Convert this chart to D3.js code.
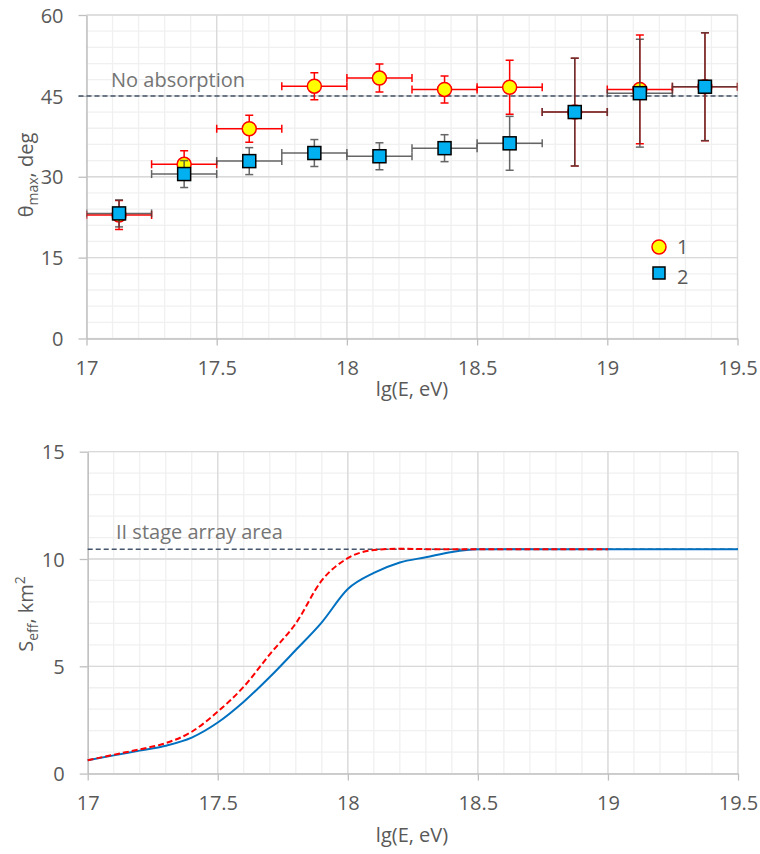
<!DOCTYPE html>
<html>
<head>
<meta charset="utf-8">
<script src="https://cdn.jsdelivr.net/npm/d3@7"></script>
<style>
body { margin: 0; background: #fff; }
svg text { font-family: "Open Sans", sans-serif; fill: #595959; }
</style>
</head>
<body>
<script>
// top panel: theta_max per energy bin
var binCenters = [17.125, 17.375, 17.625, 17.875, 18.125, 18.375, 18.625, 18.875, 19.125, 19.375];
var binHalf = 0.125;
var theta1 = [22.9, 32.3, 38.9, 46.8, 48.3, 46.2, 46.6, 42.0, 46.2, 46.7];
var theta1Err = [2.7, 2.5, 2.5, 2.5, 2.6, 2.5, 5.0, 10.0, 10.1, 10.0];
var theta2 = [23.2, 30.5, 32.9, 34.4, 33.8, 35.3, 36.2, 42.0, 45.5, 46.7];
var theta2Err = [2.5, 2.5, 2.5, 2.5, 2.5, 2.5, 5.0, 10.0, 10.0, 10.0];
var noAbsorption = 45;

// bottom panel: effective area curves
var areaX1 = [17.0, 17.1, 17.2, 17.3, 17.4, 17.5, 17.6, 17.7, 17.8, 17.9, 18.0, 18.1, 18.2, 18.3, 18.4, 18.5, 19.0, 19.5];
var area1 = [0.62, 0.85, 1.07, 1.30, 1.68, 2.38, 3.35, 4.50, 5.76, 7.05, 8.6, 9.35, 9.84, 10.08, 10.33, 10.45, 10.45, 10.45];
var areaX2 = [17.0, 17.1, 17.2, 17.3, 17.4, 17.5, 17.6, 17.7, 17.8, 17.9, 18.0, 18.1, 18.2, 18.3, 18.4, 18.5, 19.0];
var area2 = [0.62, 0.88, 1.13, 1.42, 1.95, 2.89, 4.05, 5.56, 7.0, 9.0, 10.04, 10.42, 10.48, 10.46, 10.45, 10.45, 10.45];
var arrayArea = 10.45;

var xTicks = [17, 17.5, 18, 18.5, 19, 19.5];
var yTicksTop = [0, 15, 30, 45, 60];
var yTicksBottom = [0, 5, 10, 15];

var w = 760, h = 854;
var fmt = d3.format('');

var svg = d3.select('body')
.append('svg')
.attr('width', w)
.attr('height', h);

function frame(x, y, xMinorStep, yMinorStep, yTicks, id) {
    var g = svg.append('g');
    var x0 = x.range()[0], x1 = x.range()[1];
    var y0 = y.range()[0], y1 = y.range()[1];
    var xd = x.domain(), yd = y.domain();

    var xMinor = d3.range(xd[0], xd[1] + 1e-9, xMinorStep);
    var yMinor = d3.range(yd[0], yd[1] + 1e-9, yMinorStep);

    g.selectAll('.vmin').data(xMinor).enter().append('line')
    .attr('x1', x).attr('x2', x).attr('y1', y0).attr('y2', y1)
    .attr('stroke', '#f0f0f0').attr('stroke-width', 1.3);
    g.selectAll('.hmin').data(yMinor).enter().append('line')
    .attr('x1', x0).attr('x2', x1).attr('y1', y).attr('y2', y)
    .attr('stroke', '#f0f0f0').attr('stroke-width', 1.3);

    g.selectAll('.vmaj').data(xTicks.slice(1)).enter().append('line')
    .attr('x1', x).attr('x2', x).attr('y1', y0).attr('y2', y1)
    .attr('stroke', '#d9d9d9').attr('stroke-width', 1.3);
    g.selectAll('.hmaj').data(yTicks.slice(1)).enter().append('line')
    .attr('x1', x0).attr('x2', x1).attr('y1', y).attr('y2', y)
    .attr('stroke', '#d9d9d9').attr('stroke-width', 1.3);

    var ax = g.append('g')
    .attr('transform', 'translate(0,' + y0 + ')')
    .call(d3.axisBottom(x).tickValues(xTicks).tickFormat(fmt).tickSizeInner(7).tickSizeOuter(0));
    ax.select('.domain').attr('stroke', '#bfbfbf').attr('stroke-width', 1.5);
    ax.selectAll('.tick line').attr('stroke', '#bfbfbf').attr('stroke-width', 1.3);
    ax.selectAll('.tick text').attr('y', 36).attr('dy', 0)
    .style('font-size', '20px').style('font-family', null).attr('fill', null);

    var ay = g.append('g')
    .attr('transform', 'translate(' + x0 + ',0)')
    .call(d3.axisLeft(y).tickValues(yTicks).tickFormat(fmt).tickSizeInner(8).tickSizeOuter(0));
    ay.select('.domain').attr('stroke', '#bfbfbf').attr('stroke-width', 1.5);
    ay.selectAll('.tick line').attr('stroke', '#bfbfbf').attr('stroke-width', 1.3);
    ay.selectAll('.tick text').attr('x', -23).attr('dy', '0.36em')
    .style('font-size', '20px').style('font-family', null).attr('fill', null);

    svg.append('clipPath').attr('id', id)
    .append('rect')
    .attr('x', x0).attr('y', y1)
    .attr('width', x1 - x0).attr('height', y0 - y1);

    return g;
}

// ---------- top panel ----------
var xTop = d3.scaleLinear().domain([17, 19.5]).range([86.5, 737.5]);
var yTop = d3.scaleLinear().domain([0, 60]).range([338.5, 15]);
frame(xTop, yTop, 0.1, 3, yTicksTop, 'clipTop');

svg.append('line')
.attr('x1', xTop(17) - 8).attr('x2', xTop(19.5))
.attr('y1', yTop(noAbsorption)).attr('y2', yTop(noAbsorption))
.attr('stroke', '#44546a').attr('stroke-width', 1.5).attr('stroke-dasharray', '5,3');

svg.append('text')
.attr('x', 111).attr('y', 87)
.style('font-size', '20px')
.attr('fill', '#757575').style('fill', '#757575')
.text('No absorption');

function errorBars(vals, errs, color, op) {
    var pts = binCenters.map(function(c, i) { return {x: c, v: vals[i], e: errs[i]}; });
    var g = svg.append('g')
    .attr('clip-path', 'url(#clipTop)')
    .attr('stroke', color).attr('stroke-width', 1.5).attr('opacity', op);
    pts.forEach(function(d) {
        var cx = xTop(d.x), cy = yTop(d.v);
        var xl = xTop(d.x - binHalf), xr = xTop(d.x + binHalf);
        var yt = yTop(d.v + d.e), yb = yTop(d.v - d.e);
        g.append('line').attr('x1', xl).attr('x2', xr).attr('y1', cy).attr('y2', cy);
        g.append('line').attr('x1', xl).attr('x2', xl).attr('y1', cy - 4).attr('y2', cy + 4);
        g.append('line').attr('x1', xr).attr('x2', xr).attr('y1', cy - 4).attr('y2', cy + 4);
        g.append('line').attr('x1', cx).attr('x2', cx).attr('y1', yt).attr('y2', yb);
        g.append('line').attr('x1', cx - 4).attr('x2', cx + 4).attr('y1', yt).attr('y2', yt);
        g.append('line').attr('x1', cx - 4).attr('x2', cx + 4).attr('y1', yb).attr('y2', yb);
    });
}

errorBars(theta1, theta1Err, '#ff0000', 1);
svg.append('g').selectAll('circle')
.data(binCenters)
.enter().append('circle')
.attr('cx', function(d) { return xTop(d); })
.attr('cy', function(d, i) { return yTop(theta1[i]); })
.attr('r', 7)
.attr('fill', '#ffff00')
.attr('stroke', '#ff0000')
.attr('stroke-width', 1.5);

errorBars(theta2, theta2Err, '#404040', 0.8);
svg.append('g').selectAll('rect')
.data(binCenters)
.enter().append('rect')
.attr('x', function(d) { return xTop(d) - 6.5; })
.attr('y', function(d, i) { return yTop(theta2[i]) - 6.5; })
.attr('width', 13)
.attr('height', 13)
.attr('fill', '#00b0f0')
.attr('stroke', '#000')
.attr('stroke-width', 1.5);

// legend
var leg = svg.append('g');
leg.append('circle').attr('cx', 659).attr('cy', 247).attr('r', 7)
.attr('fill', '#ffff00').attr('stroke', '#ff0000').attr('stroke-width', 1.5);
leg.append('text').attr('x', 677).attr('y', 254).style('font-size', '20px').text('1');
leg.append('rect').attr('x', 653).attr('y', 267).attr('width', 12).attr('height', 12)
.attr('fill', '#00b0f0').attr('stroke', '#000').attr('stroke-width', 1.5);
leg.append('text').attr('x', 677).attr('y', 284).style('font-size', '20px').text('2');

// axis titles
var t1 = svg.append('text')
.attr('transform', 'translate(33,175)rotate(-90)')
.attr('text-anchor', 'middle')
.style('font-size', '20px');
t1.append('tspan').text('θ');
t1.append('tspan').attr('dy', 5).style('font-size', '14px').text('max');
t1.append('tspan').attr('dy', -5).text(', deg');

svg.append('text')
.attr('x', 412).attr('y', 396)
.attr('text-anchor', 'middle')
.style('font-size', '20px')
.text('lg(E, eV)');

// ---------- bottom panel ----------
var xBot = d3.scaleLinear().domain([17, 19.5]).range([87.7, 738]);
var yBot = d3.scaleLinear().domain([0, 15]).range([773.6, 451.7]);
frame(xBot, yBot, 0.1, 1, yTicksBottom, 'clipBot');

svg.append('line')
.attr('x1', xBot(17)).attr('x2', xBot(19.5))
.attr('y1', yBot(arrayArea)).attr('y2', yBot(arrayArea))
.attr('stroke', '#44546a').attr('stroke-width', 1.5).attr('stroke-dasharray', '5,3');

svg.append('text')
.attr('x', 116).attr('y', 539)
.style('font-size', '20px')
.attr('fill', '#757575').style('fill', '#757575')
.text('II stage array area');

var line = d3.line()
.x(function(d) { return xBot(d[0]); })
.y(function(d) { return yBot(d[1]); })
.curve(d3.curveMonotoneX);

svg.append('path')
.datum(d3.zip(areaX1, area1))
.attr('d', line)
.attr('fill', 'none')
.attr('stroke', '#0070c0')
.attr('stroke-width', 2);

svg.append('path')
.datum(d3.zip(areaX2, area2))
.attr('d', line)
.attr('fill', 'none')
.attr('stroke', '#ff0000')
.attr('stroke-width', 2)
.attr('stroke-dasharray', '6,3');

var t2 = svg.append('text')
.attr('transform', 'translate(33,614)rotate(-90)')
.attr('text-anchor', 'middle')
.style('font-size', '20px');
t2.append('tspan').text('S');
t2.append('tspan').attr('dy', 5).style('font-size', '14px').text('eff');
t2.append('tspan').attr('dy', -5).text(', km');
t2.append('tspan').attr('dy', -8).style('font-size', '14px').text('2');

svg.append('text')
.attr('x', 412).attr('y', 842)
.attr('text-anchor', 'middle')
.style('font-size', '20px')
.text('lg(E, eV)');
</script>
</body>
</html>
